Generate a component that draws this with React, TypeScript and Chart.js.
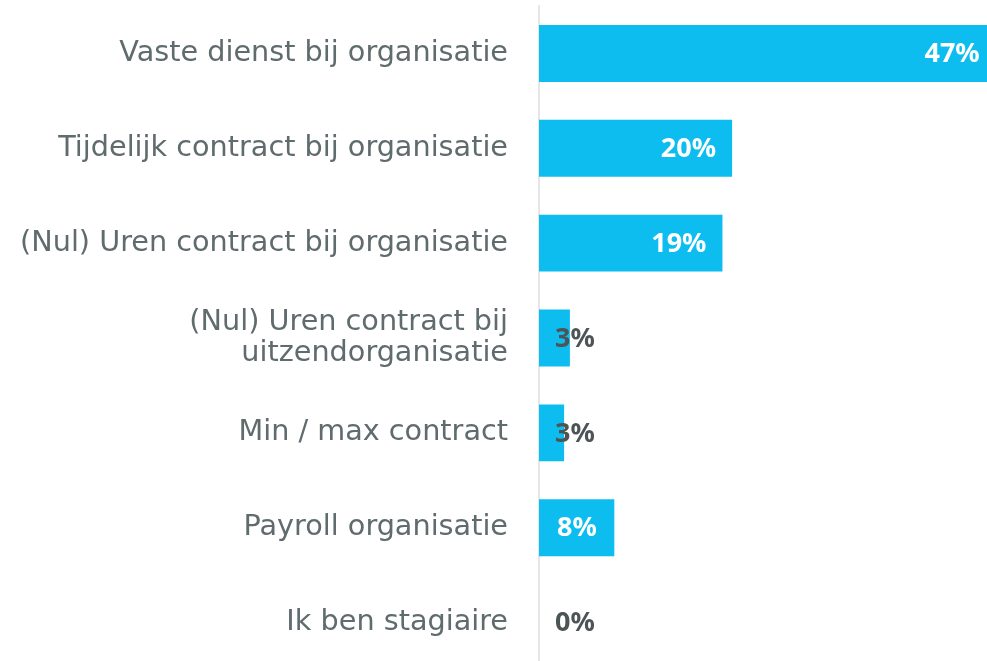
import React, { useEffect, useRef } from "react";
import { Chart, registerables } from "chart.js";

Chart.register(...registerables);

const categories: (string | string[])[] = [
  "Vaste dienst bij organisatie",
  "Tijdelijk contract bij organisatie",
  "(Nul) Uren contract bij organisatie",
  ["(Nul) Uren contract bij", "uitzendorganisatie"],
  "Min / max contract",
  "Payroll organisatie",
  "Ik ben stagiaire",
];
const values = [47.3, 20.0, 19.0, 3.2, 2.6, 7.8, 0];
const valueLabels = ["47%", "20%", "19%", "3%", "3%", "8%", "0%"];
const xMax = 46.4;

const BAR = "#0dbdef";
const LABEL_GRAY = "#5f6b6d";
const VALUE_GRAY = "#4d5456";
const LABEL_FONT = "'DejaVu Sans', sans-serif";
const VALUE_FONT = "'Noto Sans', sans-serif";

const valueLabelPlugin = {
  id: "valueLabels",
  afterDatasetsDraw(chart: any) {
    const ctx = chart.ctx;
    const meta = chart.getDatasetMeta(0);
    ctx.save();
    ctx.font = `bold 27px ${VALUE_FONT}`;
    ctx.textBaseline = "middle";
    meta.data.forEach((bar: any, i: number) => {
      const v = values[i];
      const base = bar.base;
      if (v >= 15) {
        ctx.fillStyle = "#ffffff";
        ctx.textAlign = "right";
        ctx.fillText(valueLabels[i], bar.x - 16, bar.y + 1);
      } else if (v >= 5) {
        ctx.fillStyle = "#ffffff";
        ctx.textAlign = "left";
        ctx.fillText(valueLabels[i], base + 18, bar.y + 1);
      } else {
        ctx.fillStyle = VALUE_GRAY;
        ctx.textAlign = "left";
        ctx.fillText(valueLabels[i], base + 16, bar.y + 1);
      }
    });
    ctx.restore();
  },
};

export default function App() {
  const ref = useRef<HTMLCanvasElement>(null);
  useEffect(() => {
    document.body.style.margin = "0";
    document.body.style.overflow = "hidden";
    const chart = new Chart(ref.current!, {
      type: "bar",
      data: {
        labels: categories,
        datasets: [
          {
            data: values,
            backgroundColor: BAR,
            categoryPercentage: 1,
            barPercentage: 0.6,
          },
        ],
      },
      options: {
        indexAxis: "y",
        animation: false,
        responsive: true,
        maintainAspectRatio: false,
        layout: { padding: { top: 6, right: 0, bottom: 0, left: 0 } },
        plugins: {
          legend: { display: false },
          tooltip: { enabled: false },
        },
        scales: {
          x: { display: false, min: 0, max: xMax },
          y: {
            grid: { display: false, drawTicks: false },
            border: { display: true, color: "#e6e6e6", width: 2 },
            ticks: {
              color: LABEL_GRAY,
              padding: 31,
              font: { family: LABEL_FONT, size: 28.7, lineHeight: 1.08 },
            },
            afterFit(scale: any) {
              scale.width = 539;
              scale.paddingTop = 0;
              scale.paddingBottom = 0;
            },
          },
        },
      },
      plugins: [valueLabelPlugin],
    });
    return () => chart.destroy();
  }, []);
  return (
    <div style={{ position: "fixed", left: 0, top: 0, width: 987, height: 661, overflow: "hidden" }}>
      <div style={{ position: "relative", width: 987, height: 670 }}>
        <canvas ref={ref} />
      </div>
    </div>
  );
}
